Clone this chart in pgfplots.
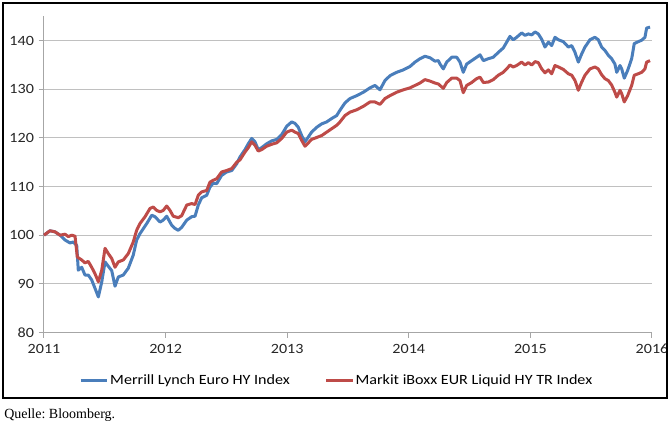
\documentclass[border=0pt]{standalone}
\usepackage{fontspec}
\setmainfont{Carlito}[FakeStretch=1.14]
\newfontfamily\seriffont{Liberation Serif}
\usepackage{pgfplots}
\pgfplotsset{compat=1.18}
\definecolor{mlblue}{HTML}{4A7EBB}
\definecolor{mkred}{HTML}{BE4B48}
\definecolor{gridgray}{HTML}{C0C0C0}
\definecolor{axgray}{HTML}{A6A6A6}
\frenchspacing
\begin{document}
\begin{tikzpicture}
\useasboundingbox (0,0) rectangle (501.75pt,319.5pt);
\begin{axis}[
 at={(33pt,70.2pt)}, anchor=south west,
 scale only axis, width=456pt, height=237pt,
 xmin=2011, xmax=2016, ymin=80, ymax=145,
 xtick={2011,2012,2013,2014,2015,2016},
 xticklabels={2011,2012,2013,2014,2015,2016},
 ytick={80,90,100,110,120,130,140},
 axis lines*=left,
 axis line style={draw=axgray, line width=0.75pt},
 tick align=outside, major tick length=4pt,
 tick style={draw=axgray, line width=0.75pt},
 ymajorgrids, grid style={draw=gridgray, line width=0.75pt},
 ticklabel style={font=\fontsize{10.6}{13}\selectfont, text=black!85},
 xticklabel style={yshift=-1.5pt},
 /pgf/number format/assume math mode=true,
 legend columns=2,
 legend style={at={(0.481,-0.153)}, anchor=center, draw=none, fill=none,
   font=\fontsize{10.6}{13}\selectfont, inner sep=0pt,
   /tikz/every even column/.append style={column sep=25pt},
   nodes={inner sep=1pt}},
 legend image code/.code={\draw[#1, line width=2.25pt] (0pt,0pt) -- (20pt,0pt);},
 clip=false,
]
\addplot[mlblue, line width=2.25pt, line join=round] coordinates {
(2011.000,100.0) (2011.049,100.9) (2011.090,100.7) (2011.132,100.0) (2011.173,99.0) (2011.214,98.4) (2011.241,98.6) (2011.269,97.9) (2011.282,92.8) (2011.310,93.4) (2011.337,91.8) (2011.364,91.8) (2011.392,90.8) (2011.419,89.1) (2011.447,87.3) (2011.475,90.4) (2011.502,94.5) (2011.529,93.6) (2011.557,92.7) (2011.584,89.5) (2011.611,91.4) (2011.652,91.8) (2011.693,93.2) (2011.734,95.9) (2011.762,99.0) (2011.789,100.3) (2011.845,102.4) (2011.886,104.1) (2011.913,103.8) (2011.954,102.7) (2011.981,103.1) (2012.009,103.9) (2012.049,102.1) (2012.077,101.4) (2012.104,101.0) (2012.132,101.6) (2012.174,103.1) (2012.215,103.8) (2012.242,103.9) (2012.269,106.2) (2012.297,107.7) (2012.338,108.2) (2012.365,109.9) (2012.392,110.7) (2012.420,110.6) (2012.461,112.3) (2012.502,113.0) (2012.544,113.3) (2012.585,114.7) (2012.612,116.1) (2012.653,117.6) (2012.680,118.8) (2012.708,119.9) (2012.735,119.2) (2012.762,117.6) (2012.790,118.0) (2012.831,118.8) (2012.873,119.4) (2012.914,119.7) (2012.955,120.7) (2012.996,122.4) (2013.037,123.3) (2013.064,123.0) (2013.091,122.2) (2013.119,120.5) (2013.146,119.2) (2013.174,120.2) (2013.201,121.2) (2013.243,122.2) (2013.284,122.9) (2013.325,123.3) (2013.366,124.0) (2013.407,124.6) (2013.434,125.7) (2013.475,127.2) (2013.516,128.1) (2013.572,128.7) (2013.626,129.4) (2013.681,130.3) (2013.722,130.8) (2013.763,129.9) (2013.804,131.8) (2013.845,132.8) (2013.900,133.5) (2013.955,134.0) (2014.010,134.7) (2014.051,135.6) (2014.092,136.3) (2014.133,136.8) (2014.174,136.5) (2014.215,135.8) (2014.243,135.9) (2014.257,135.2) (2014.284,134.2) (2014.312,135.6) (2014.353,136.6) (2014.394,136.6) (2014.421,135.6) (2014.448,133.5) (2014.476,135.2) (2014.517,135.9) (2014.558,136.6) (2014.586,137.1) (2014.613,135.9) (2014.654,136.3) (2014.695,136.6) (2014.736,137.6) (2014.777,138.5) (2014.805,139.7) (2014.832,140.9) (2014.859,140.2) (2014.887,140.7) (2014.928,141.6) (2014.956,141.1) (2014.983,141.4) (2015.011,141.2) (2015.038,141.8) (2015.065,141.4) (2015.093,140.3) (2015.120,138.7) (2015.148,139.7) (2015.175,139.0) (2015.202,140.7) (2015.230,140.2) (2015.271,139.8) (2015.312,138.7) (2015.340,139.0) (2015.367,137.6) (2015.394,135.6) (2015.422,137.3) (2015.449,138.7) (2015.490,140.2) (2015.531,140.7) (2015.558,140.2) (2015.586,138.7) (2015.613,138.0) (2015.641,137.0) (2015.668,136.3) (2015.695,135.2) (2015.710,133.5) (2015.737,134.9) (2015.751,134.2) (2015.772,132.3) (2015.800,133.9) (2015.833,136.3) (2015.854,139.4) (2015.887,139.8) (2015.915,140.1) (2015.942,140.7) (2015.956,142.6) (2015.984,142.8)
};
\addlegendentry{Merrill Lynch Euro HY Index}
\addplot[mkred, line width=2.25pt, line join=round] coordinates {
(2011.000,100.0) (2011.049,100.9) (2011.090,100.7) (2011.132,100.0) (2011.173,100.2) (2011.200,99.7) (2011.228,100.0) (2011.255,99.8) (2011.274,95.5) (2011.310,94.9) (2011.337,94.3) (2011.364,94.6) (2011.392,93.4) (2011.419,92.1) (2011.447,90.4) (2011.475,92.8) (2011.502,97.3) (2011.529,96.2) (2011.557,95.2) (2011.584,93.4) (2011.611,94.5) (2011.652,94.9) (2011.693,96.2) (2011.734,98.6) (2011.762,101.0) (2011.789,102.4) (2011.831,103.8) (2011.872,105.5) (2011.899,105.8) (2011.927,105.1) (2011.954,104.8) (2011.981,105.1) (2012.009,106.0) (2012.036,105.1) (2012.063,103.9) (2012.104,103.6) (2012.132,104.0) (2012.174,106.2) (2012.215,106.5) (2012.242,106.3) (2012.269,108.2) (2012.297,108.9) (2012.338,109.2) (2012.365,110.9) (2012.392,111.3) (2012.420,111.6) (2012.461,113.0) (2012.502,113.3) (2012.544,113.7) (2012.585,115.0) (2012.612,115.5) (2012.653,117.1) (2012.680,118.0) (2012.708,119.2) (2012.735,118.5) (2012.762,117.3) (2012.790,117.6) (2012.831,118.3) (2012.873,118.7) (2012.914,119.0) (2012.955,119.9) (2012.996,121.2) (2013.037,121.6) (2013.064,121.2) (2013.091,120.9) (2013.119,119.5) (2013.146,118.3) (2013.174,119.0) (2013.201,119.7) (2013.243,120.1) (2013.284,120.5) (2013.325,121.2) (2013.366,121.9) (2013.407,122.6) (2013.434,123.3) (2013.475,124.6) (2013.516,125.3) (2013.572,125.8) (2013.626,126.5) (2013.681,127.4) (2013.722,127.4) (2013.763,126.9) (2013.804,128.1) (2013.845,128.7) (2013.900,129.4) (2013.955,129.9) (2014.010,130.3) (2014.051,130.8) (2014.092,131.3) (2014.133,132.0) (2014.174,131.7) (2014.215,131.3) (2014.243,131.1) (2014.284,130.2) (2014.312,131.4) (2014.353,132.3) (2014.394,132.3) (2014.421,131.8) (2014.448,129.3) (2014.476,130.8) (2014.517,131.4) (2014.558,132.2) (2014.586,132.5) (2014.613,131.4) (2014.654,131.5) (2014.695,132.0) (2014.736,132.9) (2014.777,133.5) (2014.805,134.2) (2014.832,135.0) (2014.859,134.6) (2014.887,134.9) (2014.928,135.6) (2014.956,135.0) (2014.983,135.5) (2015.011,135.0) (2015.038,135.7) (2015.065,135.5) (2015.093,134.2) (2015.120,133.4) (2015.148,134.0) (2015.175,133.2) (2015.202,134.9) (2015.230,134.6) (2015.271,134.1) (2015.312,133.2) (2015.340,132.9) (2015.367,131.8) (2015.394,129.8) (2015.422,131.5) (2015.449,132.9) (2015.490,134.2) (2015.531,134.6) (2015.558,134.2) (2015.586,133.0) (2015.613,132.2) (2015.641,131.8) (2015.668,130.9) (2015.695,129.4) (2015.710,128.4) (2015.737,129.8) (2015.751,129.1) (2015.772,127.4) (2015.800,128.7) (2015.833,130.8) (2015.854,132.9) (2015.887,133.2) (2015.915,133.5) (2015.942,134.2) (2015.956,135.6) (2015.984,135.9)
};
\addlegendentry{Markit iBoxx EUR Liquid HY TR Index}
\end{axis}
\draw[line width=0.9pt] (2.25pt,21pt) rectangle (500.25pt,317.25pt);
\node[anchor=base west, inner sep=0pt, font=\seriffont\fontsize{10.5}{12}\selectfont] at (3pt,5.5pt) {Quelle: Bloomberg.};
\end{tikzpicture}
\end{document}
